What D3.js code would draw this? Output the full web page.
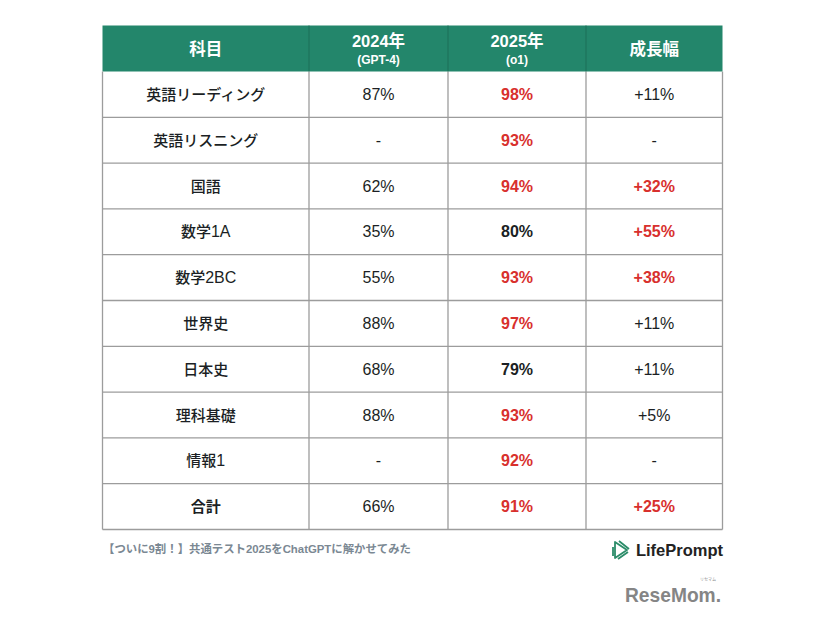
<!DOCTYPE html>
<html><head><meta charset="utf-8">
<script src="https://cdn.jsdelivr.net/npm/d3@7"></script>
<style>
html,body{margin:0;padding:0;background:#fff;}
svg{display:block;}
text{font-family:"Liberation Sans","Noto Sans CJK JP",sans-serif;}
</style></head><body>
<svg id="c" width="826" height="620"></svg>
<script>
const headers = ["科目", "2024年", "2025年", "成長幅"];
const subHeaders = ["", "(GPT-4)", "(o1)", ""];
const subjects = ["英語リーディング","英語リスニング","国語","数学1A","数学2BC","世界史","日本史","理科基礎","情報1","合計"];
const score2024 = [87, null, 62, 35, 55, 88, 68, 88, null, 66];
const score2025 = [98, 93, 94, 80, 93, 97, 79, 93, 92, 91];
const growth = [11, null, 32, 55, 38, 11, 11, 5, null, 25];
const footerText = "【ついに9割！】共通テスト2025をChatGPTに解かせてみた";

const svg = d3.select("#c");
const green = "#23866b", red = "#d8302d", dark = "#1b1f24", grid = "#9c9c9c";
const L = 102.5, R = 722.5, headTop = 25.5, headBot = 71.5, bottom = 529.5;
const colEdges = [L, 309, 448, 586, R];
const x = d3.scaleOrdinal().domain(d3.range(4)).range(d3.range(4).map(i => (colEdges[i] + colEdges[i+1]) / 2));
const y = d3.scaleBand().domain(d3.range(subjects.length)).range([headBot, bottom]);

// header
svg.append("rect").attr("x", L).attr("y", headTop).attr("width", R - L).attr("height", headBot - headTop).attr("fill", green);
headers.forEach((h, i) => {
  const hasSub = subHeaders[i] !== "";
  svg.append("text").attr("x", x(i)).attr("y", hasSub ? 47 : 54.5).attr("text-anchor", "middle")
    .attr("fill", "#fff").attr("font-weight", "bold").attr("font-size", 16.5)
    .attr("font-family", i === 0 || i === 3 ? "'Noto Sans CJK JP',sans-serif" : null).text(h);
  if (hasSub) svg.append("text").attr("x", x(i)).attr("y", 64).attr("text-anchor", "middle")
    .attr("fill", "#fff").attr("font-weight", "bold").attr("font-size", 12).text(subHeaders[i]);
});

// grid lines
const g = svg.append("g").attr("stroke", grid).attr("stroke-width", 1.3).attr("fill", "none");
subjects.forEach((s, i) => {
  g.append("line").attr("x1", L).attr("x2", R).attr("y1", y(i) + y.bandwidth()).attr("y2", y(i) + y.bandwidth());
});
g.append("line").attr("x1", L).attr("x2", L).attr("y1", headBot).attr("y2", bottom);
g.append("line").attr("x1", R).attr("x2", R).attr("y1", headBot).attr("y2", bottom);
colEdges.slice(1, 4).forEach(cx => {
  g.append("line").attr("x1", cx).attr("x2", cx).attr("y1", headBot).attr("y2", bottom);
});
colEdges.slice(1, 4).forEach(cx => {
  svg.append("line").attr("x1", cx).attr("x2", cx).attr("y1", headTop).attr("y2", headBot).attr("stroke", "#1c6f58").attr("stroke-width", 1);
});

// rows
const rows = svg.append("g").selectAll("g").data(subjects).join("g")
  .attr("transform", (d, i) => `translate(0,${y(i) + y.bandwidth() / 2 + 5.5})`);
rows.append("text").attr("x", x(0)).attr("text-anchor", "middle").attr("font-size", 15)
  .attr("font-family", "'Noto Sans CJK JP',sans-serif")
  .attr("font-weight", (d, i) => i === subjects.length - 1 ? "bold" : "500").attr("fill", dark)
  .each(function(d) {
    const t = d3.select(this);
    (d.match(/[A-Za-z0-9]+|[^A-Za-z0-9]+/g) || []).forEach(run => {
      const latin = /^[A-Za-z0-9]+$/.test(run);
      t.append("tspan").attr("font-size", latin ? 16 : null)
        .attr("font-family", latin ? "'Liberation Sans',sans-serif" : null).text(run);
    });
  });
rows.append("text").attr("x", x(1)).attr("text-anchor", "middle").attr("font-size", 16).attr("fill", dark)
  .text((d, i) => score2024[i] == null ? "-" : score2024[i] + "%");
rows.append("text").attr("x", x(2)).attr("text-anchor", "middle").attr("font-size", 16).attr("font-weight", "bold")
  .attr("fill", (d, i) => score2025[i] >= 90 ? red : dark)
  .text((d, i) => score2025[i] + "%");
rows.append("text").attr("x", x(3)).attr("text-anchor", "middle").attr("font-size", 16)
  .attr("font-weight", (d, i) => growth[i] != null && growth[i] >= 20 ? "bold" : "normal")
  .attr("fill", (d, i) => growth[i] != null && growth[i] >= 20 ? red : dark)
  .text((d, i) => growth[i] == null ? "-" : "+" + growth[i] + "%");

// footer
svg.append("text").attr("x", 103).attr("y", 553).attr("font-size", 11.5).attr("font-weight", "bold")
  .attr("fill", "#7b8893").attr("textLength", 308).attr("lengthAdjust", "spacingAndGlyphs").text(footerText);

// LifePrompt logo
const logo = svg.append("g").attr("transform", "translate(612,540)").attr("fill", "none").attr("stroke", "#2b8c69").attr("stroke-width", 1.8).attr("stroke-linejoin", "round");
logo.append("path").attr("d", "M3,2 L15,10 L3,18 Z");
logo.append("path").attr("d", "M7,1 L17,9 M1,7 L1,16 M6,19 L16,12");
svg.append("text").attr("x", 723).attr("y", 556).attr("text-anchor", "end").attr("font-size", 16.5).attr("font-weight", "bold")
  .attr("fill", "#222").text("LifePrompt");

// ReseMom logo
svg.append("text").attr("x", 625).attr("y", 602).attr("font-size", 21).attr("font-weight", "bold")
  .attr("fill", "#858585").attr("textLength", 96).attr("lengthAdjust", "spacingAndGlyphs")
  .attr("font-family", "'Liberation Sans Narrow','Liberation Sans',sans-serif").text("ReseMom.");
svg.append("text").attr("x", 708).attr("y", 581).attr("text-anchor", "middle").attr("font-size", 4).attr("fill", "#8d8d8d")
  .text("リセマム");
</script>
</body></html>
